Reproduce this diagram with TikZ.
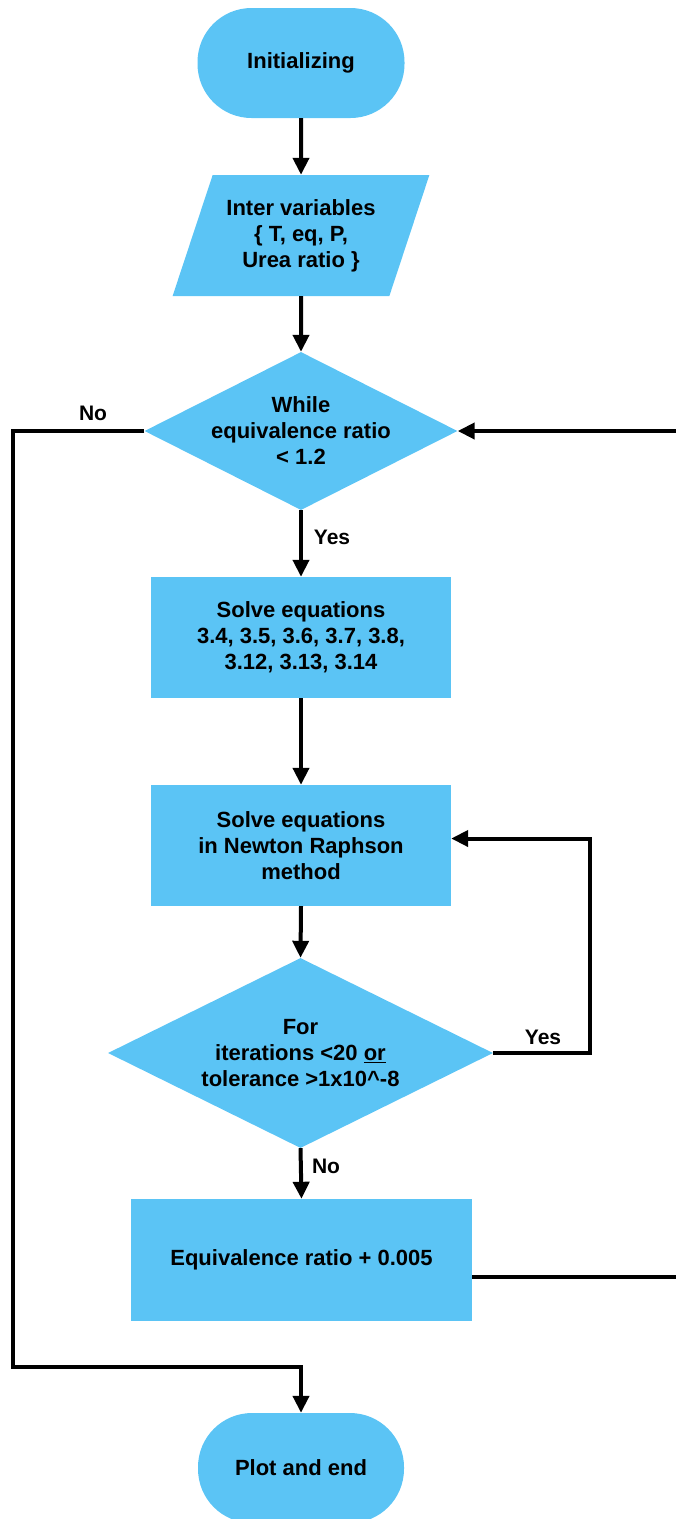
\documentclass[tikz,border=0pt]{standalone}
\usepackage{fontspec}
\setmainfont{Liberation Sans}
\usetikzlibrary{arrows.meta,shapes.geometric,calc}

\definecolor{flowblue}{RGB}{91,196,245}

\tikzset{
  base/.style={fill=flowblue, draw=none, align=center, inner sep=0pt,
    font=\fontsize{22}{26}\selectfont\bfseries},
  terminal/.style={base, rectangle, rounded corners=54pt, minimum width=207, minimum height=110},
  io/.style={base, trapezium, trapezium left angle=65, trapezium right angle=115,
    trapezium stretches, minimum width=257, minimum height=121},
  process/.style={base, rectangle, minimum width=300, minimum height=121},
  decision/.style={base, diamond},
  lbl/.style={font=\fontsize{21}{25}\selectfont\bfseries, inner sep=0pt},
  flow/.style={line width=4pt, -{Triangle[width=16pt,length=17pt]}}
}

\begin{document}
\begin{tikzpicture}[x=1pt,y=-1pt]
		\useasboundingbox (0,0) rectangle (676,1519);

		% Blocks
		\node[terminal] (init) at (301,63) {Initializing};
		\node[io] (input) at (301,235.5) {Inter variables\\\{ T, eq, P,\\Urea ratio \}};
		\node[decision, shape aspect=1.98, inner xsep=-10pt, minimum width=313, minimum height=158] (d1) at (301,431) {While\\equivalence ratio\\< 1.2};
		\node[process] (eqs) at (301,637.5) {Solve equations\\3.4, 3.5, 3.6, 3.7, 3.8,\\3.12, 3.13, 3.14};
		\node[process] (nr) at (301,845.5) {Solve equations\\in Newton Raphson\\method};
		\node[decision, shape aspect=2.03, minimum width=385, minimum height=190] (d2) at (300.5,1053) {For\\iterations <20 \underline{or}\\tolerance >1x10\textasciicircum-8};
		\node[process, minimum width=341, minimum height=122] (incr) at (301.5,1260) {Equivalence ratio + 0.005};
		\node[terminal, minimum width=206] (stop) at (301,1468) {Plot and end};

		% Loop corners
		\coordinate (lside) at (13,1367);
		\coordinate (rside) at (680,0);

		% Main flow
		\draw[flow] (init.south) -- (input.north);
		\draw[flow] (input.south) -- (d1.north);
		\draw[flow] (d1.south) -- (eqs.north);
		\draw[flow] (eqs.south) -- (nr.north);
		\draw[flow] (nr.south) -- (d2.north);
		\draw[flow] (d2.south) -- (incr.north);

		% Loops
		\draw[flow] (d2.east) -- ++(97,0) |- ([yshift=7pt]nr.east);
		\draw[flow] ([yshift=-17pt]incr.east) -- ([yshift=-17pt]incr.east -| rside) -- (rside |- d1.east) -- (d1.east);
		\draw[flow] (d1.west) -| (lside) -| (stop.north);

		% Labels
		\node[lbl] (nowhile) at (93,413) {No};
		\node[lbl] (yeswhile) at (332,537) {Yes};
		\node[lbl] (yesfor) at (543,1037) {Yes};
		\node[lbl] (nofor) at (326,1166) {No};
	\end{tikzpicture}
\end{document}
